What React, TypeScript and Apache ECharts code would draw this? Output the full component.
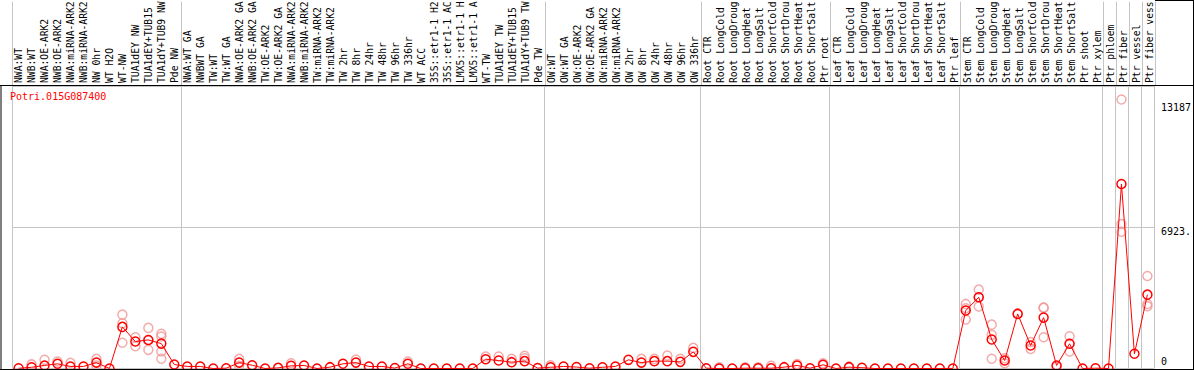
import React, { useEffect, useRef } from "react";
import * as echarts from "echarts";

const geneId = "Potri.015G087400";

const categories = [
  "NWA:WT", "NWB:WT", "NWA:OE-ARK2", "NWB:OE-ARK2", "NWA:miRNA-ARK2", "NWB:miRNA-ARK2",
  "NW 0hr", "WT H2O", "WT-NW", "TUA1dEY NW", "TUA1dEY+TUB15 NW", "TUA1dY+TUB9 NW", "Pde NW",
  "NWA:WT GA", "NWBWT GA", "TW:WT", "TW:WT GA", "NWA:OE-ARK2 GA", "NWB:OE-ARK2 GA",
  "TW:OE-ARK2", "TW:OE-ARK2 GA", "NWA:miRNA-ARK2 GA", "NWB:miRNA-ARK2 GA", "TW:miRNA-ARK2",
  "TW:miRNA-ARK2 GA", "TW 2hr", "TW 8hr", "TW 24hr", "TW 48hr", "TW 96hr", "TW 336hr",
  "WT ACC", "35S::etr1-1 H2O", "35S::etr1-1 ACC", "LMX5::etr1-1 H2O", "LMX5::etr1-1 ACC",
  "WT-TW", "TUA1dEY TW", "TUA1dEY+TUB15 TW", "TUA1dY+TUB9 TW", "Pde TW",
  "OW:WT", "OW:WT GA", "OW:OE-ARK2", "OW:OE-ARK2 GA", "OW:miRNA-ARK2", "OW:miRNA-ARK2 GA",
  "OW 2hr", "OW 8hr", "OW 24hr", "OW 48hr", "OW 96hr", "OW 336hr",
  "Root CTR", "Root LongCold", "Root LongDrought", "Root LongHeat", "Root LongSalt",
  "Root ShortCold", "Root ShortDrought", "Root ShortHeat", "Root ShortSalt", "Ptr root",
  "Leaf CTR", "Leaf LongCold", "Leaf LongDrought", "Leaf LongHeat", "Leaf LongSalt",
  "Leaf ShortCold", "Leaf ShortDrought", "Leaf ShortHeat", "Leaf ShortSalt", "Ptr leaf",
  "Stem CTR", "Stem LongCold", "Stem LongDrought", "Stem LongHeat", "Stem LongSalt",
  "Stem ShortCold", "Stem ShortDrought", "Stem ShortHeat", "Stem ShortSalt", "Ptr shoot",
  "Ptr xylem", "Ptr phloem", "Ptr fiber", "Ptr vessel", "Ptr fiber vessel",
];

const means = [
  10, 60, 150, 230, 100, 100, 290, 0, 2040, 1320, 1400, 1220, 195,
  100, 100, 0, 15, 290, 160, 0, 30, 130, 150, 0, 65, 230, 290, 100, 100, 20, 230,
  0, 0, 0, 0, 0, 455, 390, 310, 360, 20,
  60, 100, 70, 15, 60, 100, 425, 290, 360, 360, 325, 815,
  15, 0, 0, 15, 15, 15, 65, 150, 15, 180,
  0, 65, 40, 0, 0, 0, 0, 0, 0, 0,
  2840, 3490, 1420, 390, 2675, 1125, 2495, 150, 1210, 0,
  15, 0, 9040, 720, 3620,
];

// [category index, replicate value]
const replicatePoints: [number, number][] = [
  [1, 200], [2, 425], [3, 340], [4, 280], [6, 470], [6, 140],
  [8, 2640], [8, 2220], [8, 1260], [9, 1530], [9, 1090], [10, 1990], [10, 1400], [10, 915],
  [11, 1700], [11, 1565], [11, 830], [11, 475],
  [17, 470], [17, 130], [21, 260], [26, 440], [30, 340],
  [36, 590], [37, 590], [38, 470], [39, 620], [39, 500], [41, 160],
  [48, 470], [49, 470], [50, 635], [51, 470], [52, 1010],
  [54, 60], [56, 60], [57, 60], [58, 130], [60, 220], [62, 260], [64, 100],
  [73, 3165], [73, 2950], [73, 2400], [74, 3865], [74, 3490], [74, 3035],
  [75, 2150], [75, 1650], [75, 475], [76, 260], [76, 500], [77, 2700],
  [78, 960], [78, 1300], [79, 2970], [79, 2990], [79, 1530], [80, 100],
  [81, 1580], [81, 1210], [81, 830],
  [85, 13187], [85, 7080], [85, 6700], [87, 4535], [87, 3165], [87, 3050],
];

const groupStarts = [0, 13, 41, 53, 63, 73, 84, 85, 86, 87];
const yMax = 13846;
const yStep = 6923;
const yLabelValues = [0, 6923, 13187];
const yLabelTexts = ["0", "6923.", "13187"];
const headerChars = 14;

export default function App() {
  const ref = useRef<HTMLDivElement>(null);
  useEffect(() => {
    const chart = echarts.init(ref.current!, null, { renderer: "svg" });
    const mono = "'DejaVu Sans Mono', monospace";
    const gridLeft = 12.1;
    const gridRight = 38.4;
    const isBoundary = (i: number) => groupStarts.indexOf(i) >= 0;
    const splitLine = {
      show: true,
      interval: (i: number) => isBoundary(i),
      lineStyle: { color: "#c4c4c4", width: 1 },
    };
    const ringSize = 9;
    chart.setOption({
      animation: false,
      grid: [
        { left: gridLeft, right: gridRight, top: 0, height: 85 },
        { left: gridLeft, right: gridRight, top: 86, bottom: 1.5 },
      ],
      xAxis: [
        {
          type: "category",
          gridIndex: 0,
          data: categories,
          position: "bottom",
          boundaryGap: true,
          axisLine: { show: false },
          axisTick: { show: false },
          axisLabel: {
            inside: true,
            rotate: 90,
            margin: 2,
            interval: 0,
            fontFamily: mono,
            fontSize: 9.7,
            color: "#000",
            formatter: (v: string) => v.slice(0, headerChars).trimEnd(),
          },
          splitLine,
        },
        {
          type: "category",
          gridIndex: 1,
          data: categories,
          boundaryGap: true,
          axisLine: { show: false },
          axisTick: { show: false },
          axisLabel: { show: false },
          splitLine,
        },
      ],
      yAxis: [
        { type: "value", gridIndex: 0, show: false },
        {
          type: "value",
          gridIndex: 1,
          position: "right",
          min: 0,
          max: yMax,
          interval: yStep,
          axisLine: { show: false },
          axisTick: { show: false },
          splitLine: { show: true, lineStyle: { color: "#c4c4c4", width: 1 } },
          axisLabel: {
            customValues: yLabelValues,
            margin: 7,
            align: "left",
            fontFamily: mono,
            fontSize: 10,
            color: "#000",
            formatter: (v: number) => {
              const k = yLabelValues.indexOf(v);
              if (k < 0) return "";
              const key = k === 0 ? "z" : k === 1 ? "m" : "t";
              return "{" + key + "|" + yLabelTexts[k] + "}";
            },
            rich: {
              z: { fontFamily: mono, fontSize: 10, color: "#000", padding: [0, 0, 14, 0] },
              m: { fontFamily: mono, fontSize: 10, color: "#000", padding: [9, 0, 0, 0] },
              t: { fontFamily: mono, fontSize: 10, color: "#000", padding: [17, 0, 0, 0] },
            },
          },
        },
      ],
      series: [
        {
          type: "scatter",
          xAxisIndex: 1,
          yAxisIndex: 1,
          data: replicatePoints,
          symbol: "circle",
          symbolSize: ringSize,
          clip: false,
          itemStyle: { color: "transparent", borderColor: "#f09696", borderWidth: 1.5 },
          z: 2,
        },
        {
          type: "line",
          xAxisIndex: 1,
          yAxisIndex: 1,
          data: means,
          symbol: "circle",
          symbolSize: ringSize,
          showAllSymbol: true,
          clip: false,
          lineStyle: { color: "#ff0000", width: 1 },
          itemStyle: { color: "transparent", borderColor: "#ff0000", borderWidth: 1.5 },
          z: 3,
        },
      ],
      graphic: [
        { type: "line", shape: { x1: 0, y1: 85.5, x2: 1194, y2: 85.5 }, style: { stroke: "#000", lineWidth: 1 }, z: 10 },
        { type: "line", shape: { x1: 0, y1: 369.5, x2: 1194, y2: 369.5 }, style: { stroke: "#000", lineWidth: 1 }, z: 10 },
        { type: "line", shape: { x1: 1193.5, y1: 0, x2: 1193.5, y2: 370 }, style: { stroke: "#000", lineWidth: 1 }, z: 10 },
        { type: "line", shape: { x1: 1, y1: 85, x2: 1, y2: 370 }, style: { stroke: "#000", lineWidth: 1 }, z: 10 },
        { type: "line", shape: { x1: 1155, y1: 0.5, x2: 1194, y2: 0.5 }, style: { stroke: "#000", lineWidth: 1 }, z: 10 },
        {
          type: "text",
          left: 10,
          top: 91,
          style: { text: geneId, fill: "#ff0000", font: "10px 'DejaVu Sans Mono', monospace" },
          z: 10,
        },
      ],
    });
    return () => chart.dispose();
  }, []);
  return (
    <div
      ref={ref}
      style={{ position: "fixed", left: 0, top: 0, width: 1194, height: 370, background: "#fff" }}
    />
  );
}
